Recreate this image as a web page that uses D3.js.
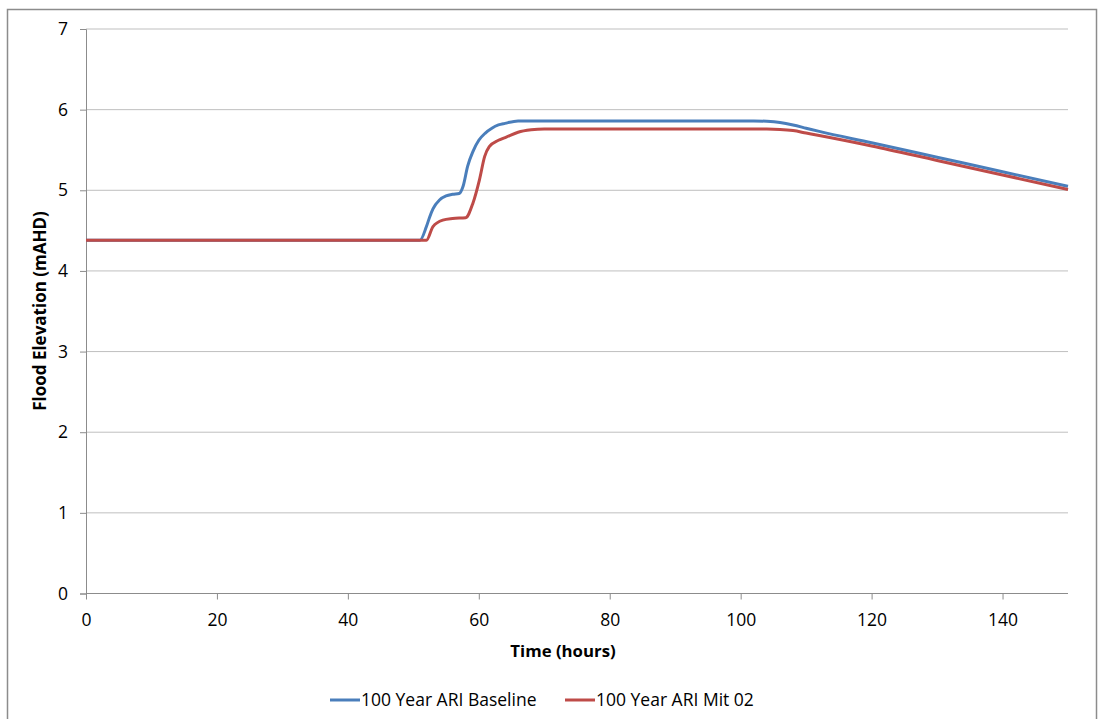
<!DOCTYPE html>
<html>
<head>
<meta charset="utf-8">
<script src="https://cdn.jsdelivr.net/npm/d3@7"></script>
<style>
  html, body { margin: 0; padding: 0; background: #fff; }
  svg { display: block; }
  text { font-family: "Open Sans", "Liberation Sans", sans-serif; fill: #000; }
</style>
</head>
<body>
<svg id="chart" width="1099" height="719"></svg>
<script>
// Flood elevation hydrographs (time in hours, level in mAHD)
const baselineTime  = [0, 51, 52, 52.5, 53, 54, 55, 56, 57, 57.6, 58.3, 59.1, 60, 61, 62, 63, 64, 66, 102, 104, 106, 108, 110, 112, 120, 130, 140, 150];
const baselineLevel = [4.38, 4.38, 4.55, 4.67, 4.77, 4.88, 4.93, 4.95, 4.96, 5.05, 5.30, 5.48, 5.62, 5.71, 5.77, 5.81, 5.83, 5.86, 5.86, 5.855, 5.84, 5.81, 5.77, 5.73, 5.59, 5.41, 5.23, 5.05];

const mitTime  = [0, 52, 53, 54.5, 56, 58, 59.1, 60.1, 60.9, 61.6, 63, 64.2, 66, 68, 70, 104, 106, 108, 110, 112, 120, 130, 140, 150];
const mitLevel = [4.38, 4.38, 4.55, 4.63, 4.65, 4.66, 4.84, 5.13, 5.42, 5.54, 5.62, 5.66, 5.72, 5.75, 5.76, 5.76, 5.755, 5.74, 5.71, 5.68, 5.55, 5.37, 5.19, 5.01];

const seriesNames = ["100 Year ARI Baseline", "100 Year ARI Mit 02"];
const seriesColors = ["#4a7ebb", "#be4b48"];
const xTicks = [0, 20, 40, 60, 80, 100, 120, 140];
const yTicks = [0, 1, 2, 3, 4, 5, 6, 7];

const svg = d3.select("#chart");
const plotLeft = 86, plotRight = 1068, plotTop = 29, plotBottom = 593.5;

// outer chart frame
svg.append("rect")
  .attr("x", 7.5).attr("y", 9.5).attr("width", 1089).attr("height", 720)
  .attr("fill", "none").attr("stroke", "#8c8c8c").attr("stroke-width", 1.5);

const x = d3.scaleLinear().domain([0, 150]).range([plotLeft, plotRight]);
const y = d3.scaleLinear().domain([0, 7]).range([plotBottom, plotTop]);

// horizontal gridlines
svg.append("g")
  .selectAll("line")
  .data(yTicks.filter(d => d > 0))
  .join("line")
  .attr("x1", plotLeft).attr("x2", plotRight)
  .attr("y1", d => y(d)).attr("y2", d => y(d))
  .attr("stroke", "#bfbfbf").attr("stroke-width", 1);

// y axis
const yAxis = svg.append("g")
  .attr("transform", `translate(${plotLeft},0)`)
  .call(d3.axisLeft(y).tickValues(yTicks).tickSize(6).tickPadding(12).tickFormat(d3.format("d")));
yAxis.select(".domain").attr("stroke", "#8c8c8c");
yAxis.selectAll(".tick line").attr("stroke", "#8c8c8c");
yAxis.selectAll(".tick text").attr("font-size", 17.5).attr("font-family", "'Open Sans', sans-serif");

// x axis
const xAxis = svg.append("g")
  .attr("transform", `translate(0,${plotBottom})`)
  .call(d3.axisBottom(x).tickValues(xTicks).tickSize(6).tickPadding(14).tickFormat(d3.format("d")));
xAxis.select(".domain").attr("stroke", "#8c8c8c").attr("d", `M${plotLeft},0H${plotRight}`);
xAxis.selectAll(".tick line").attr("stroke", "#8c8c8c");
xAxis.selectAll(".tick text").attr("font-size", 17.5).attr("font-family", "'Open Sans', sans-serif");

// axis titles
svg.append("text")
  .attr("x", 563).attr("y", 657)
  .attr("text-anchor", "middle")
  .attr("font-size", 16.8).attr("font-weight", "bold")
  .text("Time (hours)");

svg.append("text")
  .attr("transform", "translate(46,311) rotate(-90)")
  .attr("text-anchor", "middle")
  .attr("font-size", 17).attr("font-weight", "bold")
  .text("Flood Elevation (mAHD)");

// series lines
const line = d3.line()
  .x(d => x(d[0]))
  .y(d => y(d[1]))
  .curve(d3.curveMonotoneX);

const series = [
  d3.zip(baselineTime, baselineLevel),
  d3.zip(mitTime, mitLevel)
];

svg.append("g")
  .selectAll("path")
  .data(series)
  .join("path")
  .attr("d", line)
  .attr("fill", "none")
  .attr("stroke", (d, i) => seriesColors[i])
  .attr("stroke-width", 3)
  .attr("stroke-linejoin", "round");

// legend
const legendX = [330, 565];
const legend = svg.append("g");
seriesNames.forEach((name, i) => {
  legend.append("line")
    .attr("x1", legendX[i]).attr("x2", legendX[i] + 30)
    .attr("y1", 700).attr("y2", 700)
    .attr("stroke", seriesColors[i]).attr("stroke-width", 3);
  legend.append("text")
    .attr("x", legendX[i] + 31).attr("y", 706)
    .attr("font-size", 17.5)
    .text(name);
});
</script>
</body>
</html>
